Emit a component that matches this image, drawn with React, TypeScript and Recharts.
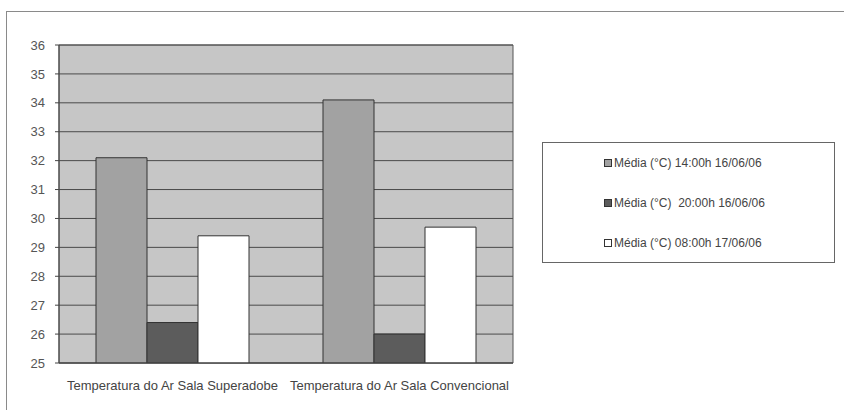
import React from 'react';
import {
  BarChart,
  Bar,
  XAxis,
  YAxis,
  CartesianGrid,
  ReferenceArea,
} from 'recharts';

const rooms = ['Temperatura do Ar Sala Superadobe', 'Temperatura do Ar Sala Convencional'];
const media14h = [32.1, 34.1];
const media20h = [26.4, 26.0];
const media08h = [29.4, 29.7];
const yTicks = [25, 26, 27, 28, 29, 30, 31, 32, 33, 34, 35, 36];

const series = [
  { key: 'm14', name: 'Média (°C) 14:00h 16/06/06', fill: '#a2a2a2' },
  { key: 'm20', name: 'Média (°C)  20:00h 16/06/06', fill: '#5c5c5c' },
  { key: 'm08', name: 'Média (°C) 08:00h 17/06/06', fill: '#ffffff' },
];

const data = rooms.map((room, i) => ({
  room,
  m14: media14h[i],
  m20: media20h[i],
  m08: media08h[i],
}));

const FONT = '"Liberation Sans", Arial, sans-serif';

// legend sits in its own framed box to the right of the plot
function LegendBox() {
  return (
    <div
      style={{
        position: 'absolute',
        left: 542,
        top: 142,
        width: 293,
        height: 121,
        border: '1px solid #666',
        boxSizing: 'border-box',
        background: '#fff',
        fontFamily: FONT,
        fontSize: 12,
        color: '#444',
      }}
    >
      {series.map((s) => (
        <div
          key={s.key}
          style={{ display: 'flex', alignItems: 'center', height: 40, paddingLeft: 61, whiteSpace: 'pre' }}
        >
          <span
            style={{
              display: 'inline-block',
              width: 6,
              height: 6,
              background: s.fill,
              border: '1.5px solid #333',
              marginRight: 2,
            }}
          />
          {s.name}
        </div>
      ))}
    </div>
  );
}

export default function App() {
  return (
    <div style={{ position: 'absolute', left: 0, top: 0, width: 844, height: 410, background: '#fff' }}>
      <div
        style={{
          position: 'absolute',
          left: 6,
          top: 11,
          width: 838,
          height: 399,
          borderTop: '1px solid #8a8a8a',
          borderLeft: '1px solid #8a8a8a',
        }}
      />
      <div style={{ position: 'absolute', left: 0, top: 0 }}>
        <BarChart
          width={844}
          height={410}
          data={data}
          margin={{ top: 45, right: 331, bottom: 17, left: 9 }}
          barSize={51}
          barGap={0}
        >
          <CartesianGrid vertical={false} fill="#c6c6c6" stroke="#4a4a4a" strokeOpacity={1} />
          <ReferenceArea y1={25} y2={36} fill="none" stroke="#555" strokeWidth={1} ifOverflow="visible" />
          <XAxis
            dataKey="room"
            axisLine={{ stroke: '#444' }}
            tickLine={false}
            height={30}
            tick={{ fill: '#444', fontSize: 13, fontFamily: FONT }}
            tickMargin={12}
            interval={0}
          />
          <YAxis
            domain={[25, 36]}
            ticks={yTicks}
            interval={0}
            width={50}
            axisLine={{ stroke: '#444' }}
            tickLine={{ stroke: '#444' }}
            tickSize={4}
            tickMargin={10}
            tick={{ fill: '#555', fontSize: 13, fontFamily: FONT }}
            allowDataOverflow
          />
          {series.map((s) => (
            <Bar
              key={s.key}
              dataKey={s.key}
              name={s.name}
              fill={s.fill}
              stroke="#333"
              strokeWidth={1}
              isAnimationActive={false}
            />
          ))}
        </BarChart>
      </div>
      <LegendBox />
    </div>
  );
}
